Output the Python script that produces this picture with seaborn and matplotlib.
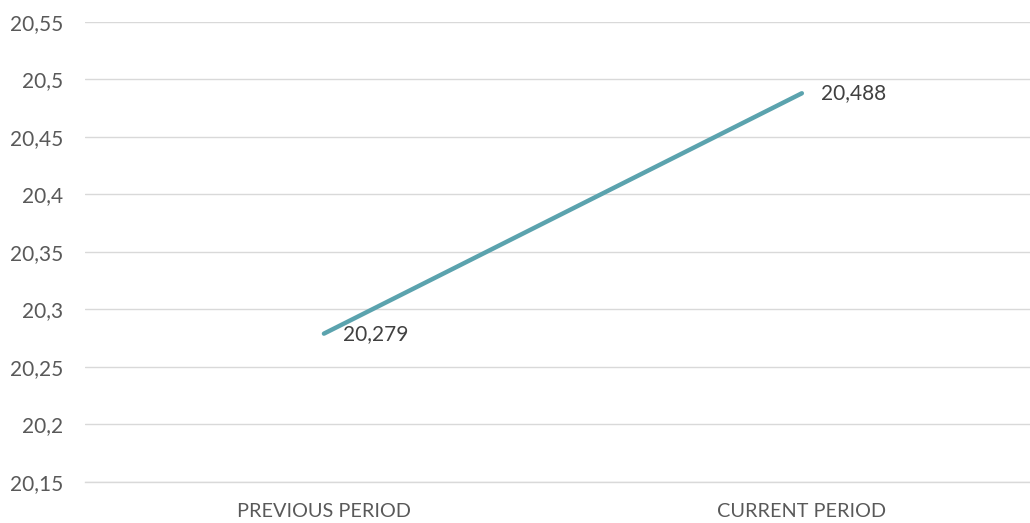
import seaborn as sns
import pandas as pd
import matplotlib
from matplotlib import pyplot as plt

periods = ['PREVIOUS PERIOD', 'CURRENT PERIOD']
values = [20.279, 20.488]
y_ticks = [20.15, 20.2, 20.25, 20.3, 20.35, 20.4, 20.45, 20.5, 20.55]

sns.set_theme(style='white')
plt.rcParams['font.family'] = ['Lato', 'DejaVu Sans']


def comma_num(v, p=None):
    s = '{:.3f}'.format(v).rstrip('0').rstrip('.')
    return s.replace('.', ',')


df = pd.DataFrame({'period': periods, 'value': values})

fig = plt.figure(figsize=(10.3, 5.23), dpi=100)
ax = fig.add_axes([0.0825, 0.0784, 0.928, 0.8796])

sns.lineplot(data=df, x='period', y='value', color='#5BA3AE',
             linewidth=3.2, ax=ax, solid_capstyle='round')

# data labels to the right of each point
for i, v in enumerate(values):
    ax.annotate(comma_num(v), (i, v), xytext=(14, 0),
                textcoords='offset points', va='center', ha='left',
                fontsize=15, color='#404040')

ax.set_xlim(-0.5, 1.5)
ax.set_ylim(20.15, 20.55)
ax.set_yticks(y_ticks)
ax.yaxis.set_major_formatter(matplotlib.ticker.FuncFormatter(comma_num))
ax.grid(axis='y', color='#D9D9D9', linewidth=1)
ax.set_axisbelow(True)

for side in ['top', 'right', 'left']:
    ax.spines[side].set_visible(False)
ax.spines['bottom'].set_color('#D9D9D9')
ax.spines['bottom'].set_linewidth(1)

ax.tick_params(axis='y', length=0, pad=16, labelsize=15, labelcolor='#595959')
ax.tick_params(axis='x', length=0, pad=15, labelsize=14.3, labelcolor='#595959')
ax.set_xlabel('')
ax.set_ylabel('')

fig.savefig('out.png', dpi=100)
